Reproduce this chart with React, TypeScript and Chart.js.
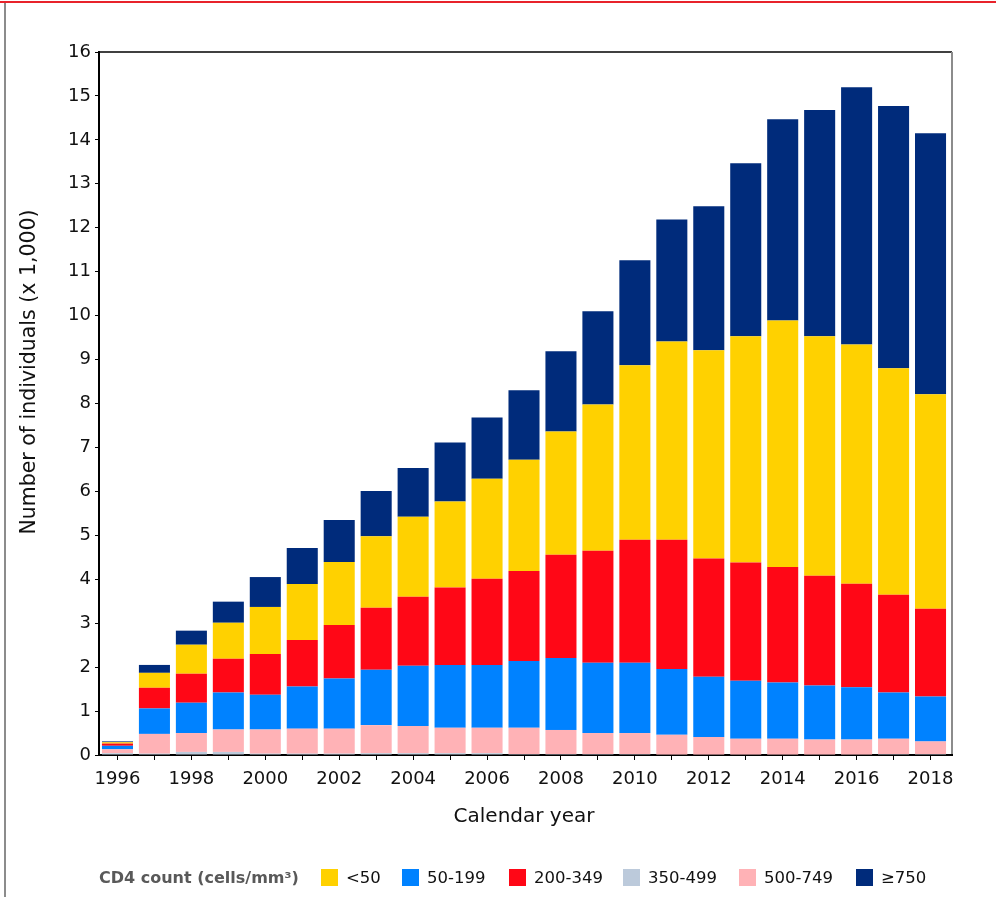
import React, { useEffect, useRef } from "react";
import { Chart, registerables } from "chart.js";

Chart.register(...registerables);

const years = [
  "1996", "1997", "1998", "1999", "2000", "2001", "2002", "2003", "2004", "2005", "2006", "2007",
  "2008", "2009", "2010", "2011", "2012", "2013", "2014", "2015", "2016", "2017", "2018",
];

// values in thousands of individuals
const cd4_350_499 = [0.04, 0.03, 0.07, 0.07, 0.03, 0.03, 0.03, 0.04, 0.04, 0.04, 0.04, 0.02, 0.02, 0.02, 0.02, 0.01, 0.01, 0.01, 0.01, 0.01, 0.01, 0.02, 0.02];
const cd4_500_749 = [0.09, 0.45, 0.43, 0.51, 0.55, 0.57, 0.57, 0.64, 0.62, 0.58, 0.58, 0.60, 0.55, 0.48, 0.48, 0.45, 0.40, 0.36, 0.36, 0.34, 0.34, 0.35, 0.29];
const cd4_50_199 = [0.08, 0.58, 0.69, 0.84, 0.79, 0.96, 1.14, 1.26, 1.37, 1.43, 1.43, 1.52, 1.64, 1.60, 1.60, 1.50, 1.37, 1.32, 1.28, 1.23, 1.19, 1.05, 1.02];
const cd4_200_349 = [0.05, 0.47, 0.66, 0.77, 0.93, 1.06, 1.22, 1.41, 1.57, 1.76, 1.96, 2.05, 2.35, 2.55, 2.80, 2.94, 2.69, 2.69, 2.63, 2.50, 2.36, 2.23, 2.00];
const cd4_lt50 = [0.03, 0.34, 0.66, 0.82, 1.07, 1.27, 1.43, 1.63, 1.82, 1.96, 2.28, 2.53, 2.80, 3.33, 3.97, 4.51, 4.74, 5.15, 5.61, 5.45, 5.44, 5.15, 4.88];
const cd4_ge750 = [0.02, 0.18, 0.32, 0.48, 0.68, 0.82, 0.96, 1.03, 1.11, 1.34, 1.39, 1.58, 1.83, 2.12, 2.39, 2.78, 3.28, 3.94, 4.58, 5.15, 5.86, 5.97, 5.94];

const yTicksMax = 16;
const yTitle = "Number of individuals (x 1,000)";
const xTitle = "Calendar year";
const legendTitle = "CD4 count (cells/mm³)";

const COLORS = {
  lt50: "#FFD100",
  c50_199: "#0082FF",
  c200_349: "#FF0716",
  c350_499: "#BCCADB",
  c500_749: "#FFB2B6",
  ge750: "#002B7B",
};

const legendItems = [
  { label: "<50", color: COLORS.lt50, x: 321 },
  { label: "50-199", color: COLORS.c50_199, x: 402 },
  { label: "200-349", color: COLORS.c200_349, x: 509 },
  { label: "350-499", color: COLORS.c350_499, x: 623 },
  { label: "500-749", color: COLORS.c500_749, x: 739 },
  { label: "≥750", color: COLORS.ge750, x: 856 },
];

const FONT = "'DejaVu Sans', Verdana, sans-serif";
const FRAME_RIGHT = 952;

const framePlugin = {
  id: "frame",
  afterDraw(chart: any) {
    const { ctx, chartArea } = chart;
    const { left, right, top, bottom } = chartArea;
    ctx.save();
    ctx.strokeStyle = "#000";
    ctx.lineWidth = 1.5;
    ctx.beginPath();
    ctx.moveTo(left, top);
    ctx.lineTo(FRAME_RIGHT, top);
    ctx.stroke();
    ctx.lineWidth = 2;
    ctx.beginPath();
    ctx.moveTo(right - 1, Math.round(bottom));
    ctx.lineTo(FRAME_RIGHT + 1, Math.round(bottom));
    ctx.stroke();
    ctx.strokeStyle = "#8c8c8c";
    ctx.lineWidth = 2;
    ctx.beginPath();
    ctx.moveTo(FRAME_RIGHT, top);
    ctx.lineTo(FRAME_RIGHT, bottom - 1);
    ctx.stroke();
    // y-axis title (offset upward like the original)
    ctx.translate(30, 372);
    ctx.rotate(-Math.PI / 2);
    ctx.fillStyle = "#111";
    ctx.font = `20.5px ${FONT}`;
    ctx.textAlign = "center";
    ctx.textBaseline = "middle";
    ctx.fillText(yTitle, 0, 0);
    ctx.restore();
  },
};

export default function App() {
  const canvasRef = useRef<HTMLCanvasElement | null>(null);

  useEffect(() => {
    if (!canvasRef.current) return;
    Chart.defaults.font.family = FONT;
    Chart.defaults.color = "#111";
    const chart = new Chart(canvasRef.current, {
      type: "bar",
      data: {
        labels: years,
        datasets: [
          { label: "350-499", data: cd4_350_499, backgroundColor: COLORS.c350_499 },
          { label: "500-749", data: cd4_500_749, backgroundColor: COLORS.c500_749 },
          { label: "50-199", data: cd4_50_199, backgroundColor: COLORS.c50_199 },
          { label: "200-349", data: cd4_200_349, backgroundColor: COLORS.c200_349 },
          { label: "<50", data: cd4_lt50, backgroundColor: COLORS.lt50 },
          { label: "≥750", data: cd4_ge750, backgroundColor: COLORS.ge750 },
        ],
      },
      options: {
        animation: false,
        responsive: false,
        maintainAspectRatio: false,
        datasets: {
          bar: { categoryPercentage: 0.84, barPercentage: 1, borderWidth: 0 },
        },
        layout: { padding: { left: 19, right: 47, top: 52, bottom: 68 } },
        plugins: {
          legend: { display: false },
          tooltip: { enabled: false },
        },
        scales: {
          x: {
            stacked: true,
            afterFit: (scale: any) => {
              scale.height = 74;
            },
            grid: {
              display: true,
              drawOnChartArea: false,
              drawTicks: true,
              tickLength: 5,
              offset: false,
              color: "#000",
              lineWidth: 1,
            },
            border: { display: true, color: "#000", width: 2 },
            ticks: {
              autoSkip: false,
              maxRotation: 0,
              padding: 9,
              color: "#111",
              font: { size: 18, family: FONT },
              callback: (_v: any, i: number) => (i % 2 === 0 ? years[i] : ""),
            },
            title: {
              display: true,
              text: xTitle,
              color: "#111",
              font: { size: 20, family: FONT },
              padding: { top: 0, bottom: 0 },
            },
          },
          y: {
            stacked: true,
            min: 0,
            max: yTicksMax,
            afterFit: (scale: any) => {
              scale.width = 80;
            },
            grid: {
              display: true,
              drawOnChartArea: false,
              drawTicks: true,
              tickLength: 4,
              color: "#000",
              lineWidth: 1,
            },
            border: { display: true, color: "#000", width: 2 },
            ticks: {
              stepSize: 1,
              padding: 4,
              color: "#111",
              font: { size: 18, family: FONT },
            },
            title: { display: false },
          },
        },
      },
      plugins: [framePlugin],
    });
    return () => chart.destroy();
  }, []);

  return (
    <div style={{ position: "absolute", left: 0, top: 0, width: 996, height: 897, background: "#fff", overflow: "hidden" }}>
      <div style={{ position: "absolute", left: 0, top: 1, width: 996, height: 2, background: "#e8232b" }} />
      <div style={{ position: "absolute", left: 4, top: 3, width: 2, height: 894, background: "#8c8c8c" }} />
      <canvas ref={canvasRef} width={996} height={897} style={{ position: "absolute", left: 0, top: 0, width: 996, height: 897 }} />
      <div
        style={{
          position: "absolute",
          left: 99,
          top: 868,
          fontFamily: FONT,
          fontSize: 16,
          lineHeight: "19px",
          whiteSpace: "nowrap",
          fontWeight: "bold",
          color: "#595959",
        }}
      >
        {legendTitle}
      </div>
      {legendItems.map((it) => (
        <div
          key={it.label}
          style={{
            position: "absolute",
            left: it.x,
            top: 868,
            display: "flex",
            alignItems: "center",
            fontFamily: FONT,
            fontSize: 16.5,
            lineHeight: "19px",
            whiteSpace: "nowrap",
            color: "#111",
          }}
        >
          <span style={{ display: "inline-block", width: 17, height: 17, background: it.color, marginRight: 8 }} />
          <span>{it.label}</span>
        </div>
      ))}
    </div>
  );
}
